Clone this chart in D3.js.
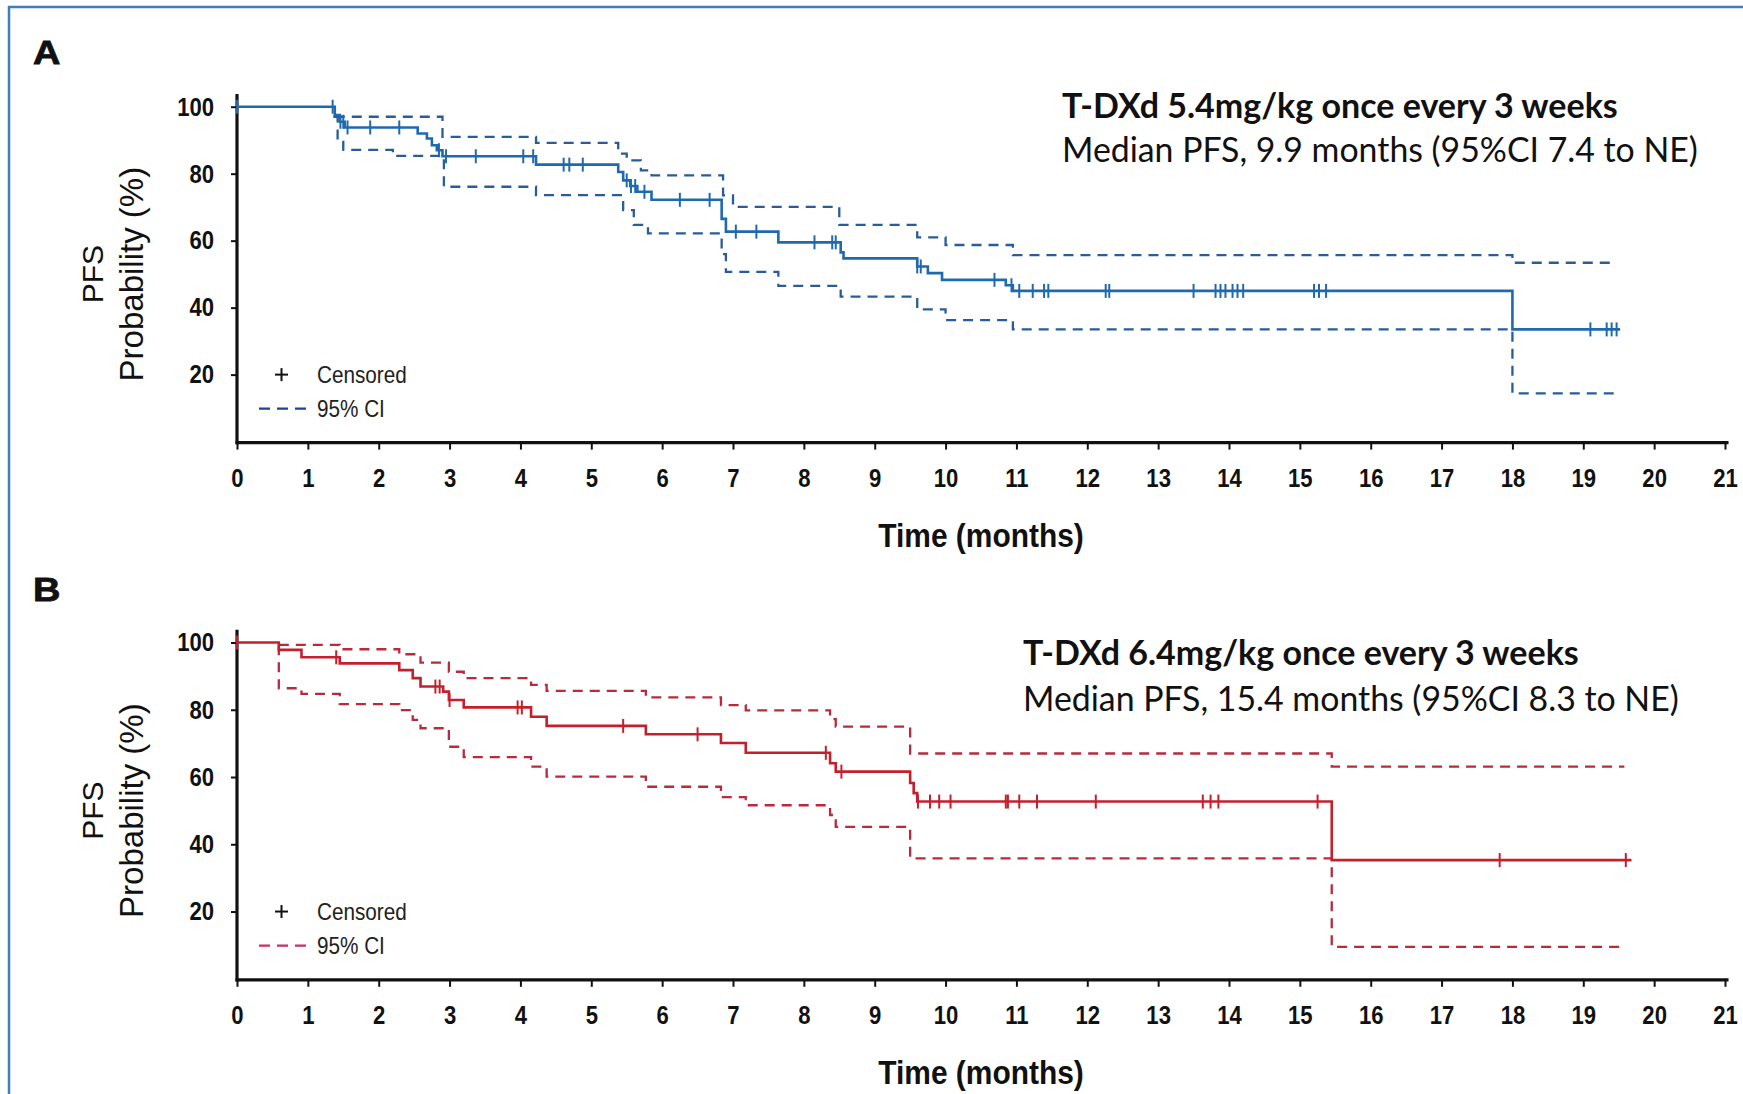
<!DOCTYPE html>
<html><head><meta charset="utf-8">
<script src="https://cdn.jsdelivr.net/npm/d3@7"></script>
<style>
html,body{margin:0;padding:0;background:#fff;}
svg{display:block;}
</style></head><body>
<svg id="chart" width="1743" height="1094"></svg>
<script>
// ---------------- DATA ----------------
const xTickValues = [0,1,2,3,4,5,6,7,8,9,10,11,12,13,14,15,16,17,18,19,20,21];
const yTickValues = [20,40,60,80,100];

const panelLabels = ["A", "B"];
const regimenTitles = ["T-DXd 5.4mg/kg once every 3 weeks", "T-DXd 6.4mg/kg once every 3 weeks"];
const medianTexts = ["Median PFS, 9.9 months (95%CI 7.4 to NE)", "Median PFS, 15.4 months (95%CI 8.3 to NE)"];
const legendLabels = ["Censored", "95% CI"];
const xAxisTitle = "Time (months)";
const yAxisTitleLines = ["PFS", "Probability (%)"];

// Panel A: Kaplan-Meier steps [time (months), PFS %]
const kmA = [[0,100],[1.38,97.5],[1.45,95.5],[1.52,93.8],[2.55,92],[2.68,90.5],[2.75,88.5],[2.82,87],[2.9,85.2],
  [4.22,82.7],[5.38,80.5],[5.45,78],[5.55,76.3],[5.65,74.6],[5.85,72.2],[6.84,66.5],[6.9,62.7],[7.64,59.5],
  [8.52,56.5],[8.56,54.7],[9.6,52.3],[9.75,50.3],[9.95,48.3],[10.85,46.7],[10.95,45],[18.0,33.5]];
const kmAEnd = 19.52;
const censorA = [0,1.35,1.46,1.5,1.56,1.88,2.29,2.85,2.95,3.37,4.04,4.18,4.61,4.69,4.88,5.5,5.56,5.62,5.75,6.25,6.67,
  7.04,7.33,8.15,8.4,8.45,9.6,9.65,10.69,10.93,11.04,11.23,11.39,11.45,12.26,12.31,13.5,13.81,13.88,13.95,14.05,
  14.12,14.2,15.2,15.27,15.37,19.1,19.33,19.4,19.47];
const ciUpperA = [[1.38,97],[2.9,91],[4.22,89.2],[5.38,86],[5.5,84],[5.7,81],[5.85,79.5],[6.86,73.5],[7.0,70.1],
  [8.5,64.7],[9.6,61],[10.0,58.7],[10.95,55.7],[18.0,53.4]];
const ciLowerA = [[1.36,97],[1.42,90],[1.5,87.1],[2.2,85.3],[2.92,76.1],[4.22,73.6],[5.45,69.1],[5.6,64.7],[5.8,62.2],
  [6.84,56],[6.9,50.7],[7.64,46.5],[8.52,43.3],[9.6,39.5],[10.0,36.3],[10.95,33.5],[18.0,14.4]];
const ciEndA = 19.45;

// Panel B
const kmB = [[0,100],[0.59,97.8],[0.91,95.6],[1.45,93.8],[2.29,91.8],[2.48,89.4],[2.59,86.9],[2.91,85.4],[2.99,82.9],
  [3.2,80.7],[4.15,77.9],[4.37,75.2],[5.77,72.7],[6.83,70.1],[7.18,67.2],[8.37,64.1],[8.45,61.6],[9.5,58.2],
  [9.55,55.2],[9.6,52.7],[15.45,35.3]];
const kmBEnd = 19.68;
const censorB = [0,1.4,2.8,2.86,3.0,3.96,4.02,5.45,6.5,8.31,8.53,9.61,9.78,9.91,10.07,10.85,10.88,11.04,11.29,12.12,
  13.63,13.74,13.85,15.25,17.82,19.6];
const ciUpperB = [[0.59,99.3],[1.45,98],[2.29,96.5],[2.59,94],[2.99,91.3],[3.2,89.4],[4.15,87.4],[4.37,85.6],
  [5.77,83.7],[6.83,81.4],[7.18,79.8],[8.37,77.2],[8.45,75],[9.5,67],[15.45,63.1]];
const ciLowerB = [[0.58,99],[0.59,86.4],[0.91,84.7],[1.45,81.7],[2.29,79.9],[2.48,77],[2.59,74.5],[2.99,69],[3.2,65.9],
  [4.15,63.1],[4.37,60.1],[5.77,57.1],[6.83,54],[7.18,51.6],[8.37,48.7],[8.45,45.2],[9.5,35.8],[15.45,9.5]];
const ciEndB = 19.58;

// ---------------- LAYOUT / STYLE ----------------
const W = 1743, H = 1094;
const xRange = [237, 1725];
const panels = [
  {i:0, km:kmA, kmEnd:kmAEnd, censor:censorA, ciU:ciUpperA, ciL:ciLowerA, ciEnd:ciEndA,
   y0:441.6, y100:106.7, labelY:64, titleX:1062, titleY:118, medianY:162,
   line:"#1f6aae", ci:"#2a5c98", legendCi:"#23409a"},
  {i:1, km:kmB, kmEnd:kmBEnd, censor:censorB, ciU:ciUpperB, ciL:ciLowerB, ciEnd:ciEndB,
   y0:978.8, y100:642.5, labelY:601, titleX:1023, titleY:665, medianY:711,
   line:"#c4202c", ci:"#b82a3c", legendCi:"#c4306a"}
];
const titleWidths = [[556, 636],[556, 656]];
const axisFont = "'Liberation Sans', Arial, Helvetica, sans-serif";
const annFont = "Lato, 'Open Sans', sans-serif";
const narrow = 0.85;

const svg = d3.select("#chart");
svg.append("rect").attr("x",0).attr("y",0).attr("width",W).attr("height",H).attr("fill","#fff");
// frame
svg.append("rect").attr("x",9).attr("y",7).attr("width",W+20).attr("height",H+20)
  .attr("fill","none").attr("stroke","#3f7dbd").attr("stroke-width",2.5);

function valueAt(steps, t){
  let v = steps[0][1];
  for (const s of steps){ if (s[0] <= t + 1e-9) v = s[1]; else break; }
  return v;
}
function fitText(sel, target, base){
  sel.attr("font-size", base);
  const len = sel.node().getComputedTextLength();
  sel.attr("font-size", base * target / len);
}

panels.forEach(p => {
  const x = d3.scaleLinear().domain([0,21]).range(xRange);
  const y = d3.scaleLinear().domain([0,100]).range([p.y0, p.y100]);
  const g = svg.append("g");

  // panel letter
  g.append("text").attr("transform",`translate(33,${p.labelY}) scale(1.15,1)`).text(panelLabels[p.i])
    .attr("font-family",axisFont).attr("font-weight","bold").attr("font-size",33).attr("fill","#111")
    .attr("stroke","#111").attr("stroke-width",0.8);

  // X axis
  const xAxis = d3.axisBottom(x).tickValues(xTickValues).tickSize(7).tickSizeOuter(0).tickPadding(19)
    .tickFormat(d3.format("d"));
  const gx = g.append("g").attr("transform",`translate(0,${y(0)+1})`).call(xAxis);
  gx.select(".domain").attr("stroke","#111").attr("stroke-width",3.2)
    .attr("d",`M${x(0)-1.5},0H${x(21.05)}`);
  gx.selectAll(".tick line").attr("stroke","#111").attr("stroke-width",2);
  gx.selectAll(".tick text").attr("font-family",axisFont).attr("font-weight","bold")
    .attr("font-size",26).attr("fill","#111").attr("transform",`scale(${narrow},1)`);

  // Y axis
  const yAxis = d3.axisLeft(y).tickValues(yTickValues).tickSize(6).tickSizeOuter(0).tickPadding(21)
    .tickFormat(d3.format("d"));
  const gy = g.append("g").attr("transform",`translate(${x(0)},0)`).call(yAxis);
  gy.select(".domain").attr("stroke","#111").attr("stroke-width",3.2)
    .attr("d",`M0,${y(0)+2.6}V${y(103.8)}`);
  gy.selectAll(".tick line").attr("stroke","#111").attr("stroke-width",2);
  gy.selectAll(".tick text").attr("font-family",axisFont).attr("font-weight","bold")
    .attr("font-size",26).attr("fill","#111").attr("transform",`scale(${narrow},1)`);

  // axis titles
  g.append("text").attr("transform",`translate(${(x(0)+x(21))/2},${y(0)+105}) scale(0.88,1)`)
    .attr("text-anchor","middle")
    .attr("font-family",axisFont).attr("font-weight","bold").attr("font-size",34).attr("fill","#111")
    .text(xAxisTitle);
  const yc = (y(0)+y(100))/2;
  [[92,30],[131,33]].forEach((d,k) => {
    g.append("text").attr("transform",`translate(${d[0]},${yc}) rotate(-90)`)
      .attr("text-anchor","middle").attr("dy","0.36em")
      .attr("font-family",axisFont).attr("font-size",d[1]).attr("fill","#111")
      .text(yAxisTitleLines[k]);
  });

  // CI bands (dashed step lines)
  const stepLine = d3.line().x(d=>x(d[0])).y(d=>y(d[1])).curve(d3.curveStepAfter);
  [p.ciU, p.ciL].forEach(ci => {
    const pts = ci.concat([[p.ciEnd, ci[ci.length-1][1]]]);
    g.append("path").attr("d", stepLine(pts)).attr("fill","none")
      .attr("stroke",p.ci).attr("stroke-width",2.3).attr("stroke-dasharray","10,7");
  });

  // KM curve
  const kmPts = p.km.concat([[p.kmEnd, p.km[p.km.length-1][1]]]);
  g.append("path").attr("d", stepLine(kmPts)).attr("fill","none")
    .attr("stroke",p.line).attr("stroke-width",2.6);

  // censor marks
  g.selectAll(null).data(p.censor).enter().append("line")
    .attr("x1",d=>x(d)).attr("x2",d=>x(d))
    .attr("y1",d=>y(valueAt(p.km,d))-7).attr("y2",d=>y(valueAt(p.km,d))+7)
    .attr("stroke",p.line).attr("stroke-width",2);

  // legend
  const ly = y(20);
  g.append("line").attr("x1",275).attr("x2",288).attr("y1",ly).attr("y2",ly).attr("stroke","#111").attr("stroke-width",2);
  g.append("line").attr("x1",281.5).attr("x2",281.5).attr("y1",ly-6.5).attr("y2",ly+6.5).attr("stroke","#111").attr("stroke-width",2);
  g.append("text").attr("transform",`translate(317,${ly+8}) scale(0.9,1)`).text(legendLabels[0])
    .attr("font-family",axisFont).attr("font-size",23).attr("fill","#222");
  g.append("line").attr("x1",259).attr("x2",306).attr("y1",ly+34).attr("y2",ly+34)
    .attr("stroke",p.legendCi).attr("stroke-width",2.2).attr("stroke-dasharray","11,7");
  g.append("text").attr("transform",`translate(317,${ly+42}) scale(0.9,1)`).text(legendLabels[1])
    .attr("font-family",axisFont).attr("font-size",23).attr("fill","#222");

  // annotation
  const t1 = g.append("text").attr("x",p.titleX).attr("y",p.titleY).text(regimenTitles[p.i])
    .attr("font-family",annFont).attr("font-weight","bold").attr("fill","#111");
  fitText(t1, titleWidths[p.i][0], 30);
  const t2 = g.append("text").attr("x",p.titleX).attr("y",p.medianY).text(medianTexts[p.i])
    .attr("font-family",annFont).attr("fill","#111");
  fitText(t2, titleWidths[p.i][1], 30);
});
</script></body></html>
